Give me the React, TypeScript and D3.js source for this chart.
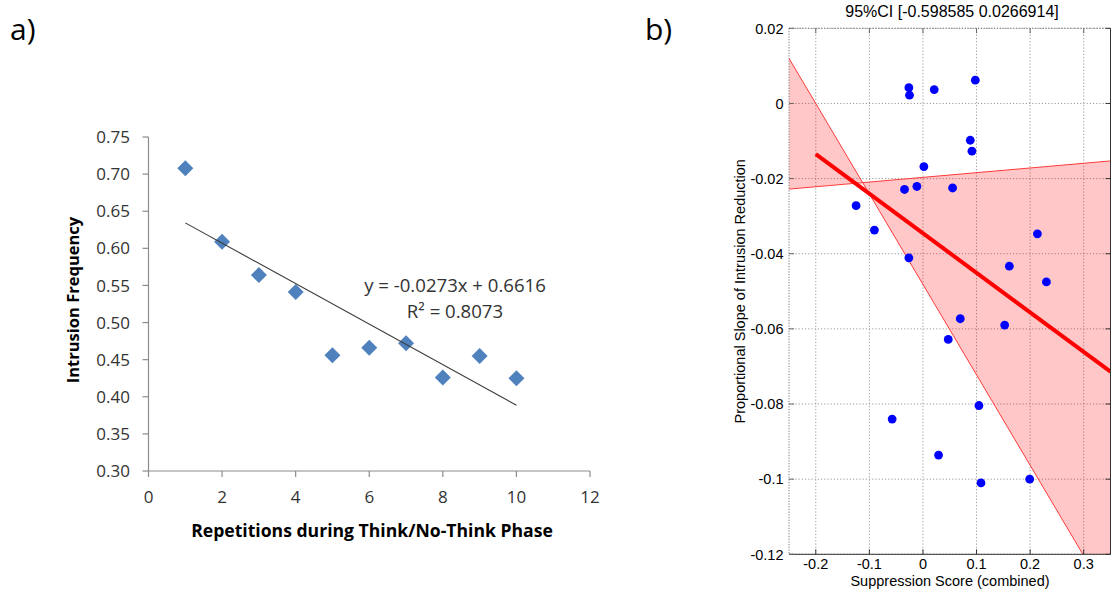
import React from "react";
import * as d3 from "d3";

// ---------- Panel a data ----------
const repetitions = [1, 2, 3, 4, 5, 6, 7, 8, 9, 10];
const intrusionFreq = [0.708, 0.609, 0.564, 0.541, 0.456, 0.466, 0.472, 0.426, 0.455, 0.425];
const trendSlope = -0.0273;
const trendIntercept = 0.6616;
const trendRange = [1, 10];
const xTicksA = [0, 2, 4, 6, 8, 10, 12];
const yTicksA = [0.3, 0.35, 0.4, 0.45, 0.5, 0.55, 0.6, 0.65, 0.7, 0.75];
const eqText = "y = -0.0273x + 0.6616";
const r2Text = "R\u00b2 = 0.8073";

// ---------- Panel b data ----------
const suppression = [
  -0.0263, -0.0251, 0.021, 0.0977, 0.0883, 0.0914, 0.0017, -0.0344, -0.0113, 0.0553,
  -0.1248, -0.0906, -0.0263, 0.2136, 0.1612, 0.2304, 0.0696, 0.0472, 0.1525, 0.1045,
  -0.0575, 0.0291, 0.1083, 0.1992,
];
const slopeVals = [
  0.0042, 0.0022, 0.0037, 0.0062, -0.0098, -0.0127, -0.0168, -0.0229, -0.0221, -0.0225,
  -0.0272, -0.0337, -0.0411, -0.0347, -0.0433, -0.0475, -0.0573, -0.0628, -0.059, -0.0804,
  -0.084, -0.0936, -0.101, -0.1,
];
const fitX = [-0.2, 0.35];
const fitY = [-0.0135, -0.0714];
const ciX = [-0.25, 0.35];
const ciLineA = [0.012, -0.1324];
const ciLineB = [-0.0228, -0.0153];
const xTicksB = [-0.2, -0.1, 0, 0.1, 0.2, 0.3];
const yTicksB = [0.02, 0, -0.02, -0.04, -0.06, -0.08, -0.1, -0.12];
const titleB = "95%CI [-0.598585 0.0266914]";

export default function App() {
  // Panel a scales
  const xA = d3.scaleLinear().domain([0, 12]).range([148.5, 590]);
  const yA = d3.scaleLinear().domain([0.3, 0.75]).range([471, 137]);
  const diamond = d3.symbol().type(d3.symbolSquare).size(128)();
  const axisGray = "#8c8c8c";
  const fa = "'Open Sans', sans-serif";
  const tickCol = "#333";

  // Panel b scales
  const xB = d3.scaleLinear().domain([-0.25, 0.35]).range([789, 1110.5]);
  const yB = d3.scaleLinear().domain([-0.12, 0.02]).range([554.3, 28.3]);
  const fb = "'Liberation Sans', Arial, sans-serif";
  const [bx0, bx1] = xB.range();
  const [by0, by1] = yB.range(); // by0 bottom, by1 top

  // Band polygon (bowtie between the two confidence lines)
  const bandPts: [number, number][] = [
    [ciX[0], ciLineA[0]],
    [ciX[1], ciLineA[1]],
    [ciX[1], ciLineB[1]],
    [ciX[0], ciLineB[0]],
  ];
  const line = d3
    .line<[number, number]>()
    .x((d) => xB(d[0]))
    .y((d) => yB(d[1]));
  const bandPath = line(bandPts) + "Z";
  const lineAPath = line(ciX.map((x, i) => [x, ciLineA[i]] as [number, number]));
  const lineBPath = line(ciX.map((x, i) => [x, ciLineB[i]] as [number, number]));
  const fitPath = line(fitX.map((x, i) => [x, fitY[i]] as [number, number]));

  const gridColor = "#9a9a9a";
  const fmtB = (t: number) => d3.format("~g")(t).replace("\u2212", "-");

  return (
    <svg
      width={1112}
      height={592}
      style={{ position: "absolute", left: 0, top: 0, background: "#fff" }}
    >
      <rect x={0} y={0} width={1112} height={592} fill="#fff" />
      {/* ---------------- Panel a ---------------- */}
      <text x={10} y={40} fontFamily={fa} fontSize={30} fill="#000">
        a)
      </text>
      {/* axes */}
      <line x1={xA(0)} x2={xA(0)} y1={yA(0.75)} y2={yA(0.3)} stroke={axisGray} strokeWidth={1.2} />
      <line x1={xA(0)} x2={xA(12)} y1={yA(0.3)} y2={yA(0.3)} stroke={axisGray} strokeWidth={1.2} />
      {yTicksA.map((t) => (
        <g key={"ya" + t}>
          <line x1={xA(0) - 6} x2={xA(0)} y1={yA(t)} y2={yA(t)} stroke={axisGray} strokeWidth={1.2} />
          <text
            x={130}
            y={yA(t)}
            dy="0.36em"
            textAnchor="end"
            fontFamily={fa}
            fontSize={17}
            fill={tickCol}
          >
            {t.toFixed(2)}
          </text>
        </g>
      ))}
      {xTicksA.map((t) => (
        <g key={"xa" + t}>
          <line x1={xA(t)} x2={xA(t)} y1={yA(0.3)} y2={yA(0.3) + 6} stroke={axisGray} strokeWidth={1.2} />
          <text
            x={xA(t)}
            y={503}
            textAnchor="middle"
            fontFamily={fa}
            fontSize={17}
            fill={tickCol}
          >
            {t}
          </text>
        </g>
      ))}
      <text
        transform={`translate(79,${(yA(0.75) + yA(0.3)) / 2 - 4}) rotate(-90)`}
        textAnchor="middle"
        fontFamily={fa}
        fontSize={16.5}
        fontWeight="bold"
        fill="#000"
      >
        Intrusion Frequency
      </text>
      <text
        x={372}
        y={537}
        textAnchor="middle"
        fontFamily={fa}
        fontSize={17.6}
        fontWeight="bold"
        fill="#000"
      >
        Repetitions during Think/No-Think Phase
      </text>
      {/* markers */}
      {repetitions.map((r, i) => (
        <path
          key={"d" + i}
          d={diamond || ""}
          transform={`translate(${xA(r)},${yA(intrusionFreq[i])}) rotate(45)`}
          fill="#4f81bd"
        />
      ))}
      {/* trendline */}
      <line
        x1={xA(trendRange[0])}
        y1={yA(trendIntercept + trendSlope * trendRange[0])}
        x2={xA(trendRange[1])}
        y2={yA(trendIntercept + trendSlope * trendRange[1])}
        stroke="#3a3a3a"
        strokeWidth={1.1}
      />
      <text x={455} y={292} textAnchor="middle" fontFamily={fa} fontSize={18.6} fill={tickCol}>
        {eqText}
      </text>
      <text x={455} y={318} textAnchor="middle" fontFamily={fa} fontSize={18.6} fill={tickCol}>
        {r2Text}
      </text>

      {/* ---------------- Panel b ---------------- */}
      <text x={645} y={40} fontFamily={fa} fontSize={30} fill="#000">
        b)
      </text>
      <defs>
        <clipPath id="clipB">
          <rect x={bx0} y={by1} width={bx1 - bx0} height={by0 - by1} />
        </clipPath>
      </defs>
      {/* gridlines */}
      {xTicksB.map((t) => (
        <line
          key={"gx" + t}
          x1={xB(t)}
          x2={xB(t)}
          y1={by1}
          y2={by0}
          stroke={gridColor}
          strokeWidth={1}
          strokeDasharray="1.2,2"
        />
      ))}
      {yTicksB.map((t) => (
        <line
          key={"gy" + t}
          x1={bx0}
          x2={bx1}
          y1={yB(t)}
          y2={yB(t)}
          stroke={gridColor}
          strokeWidth={1}
          strokeDasharray="1.2,2"
        />
      ))}
      <g clipPath="url(#clipB)">
        <path d={bandPath} fill="#ff0000" fillOpacity={0.22} stroke="none" />
        <path d={lineAPath || ""} fill="none" stroke="#ff3a3a" strokeWidth={1} />
        <path d={lineBPath || ""} fill="none" stroke="#ff3a3a" strokeWidth={1} />
        <path d={fitPath || ""} fill="none" stroke="#ff0000" strokeWidth={4} />
        {suppression.map((s, i) => (
          <circle key={"p" + i} cx={xB(s)} cy={yB(slopeVals[i])} r={4.4} fill="#0000ff" />
        ))}
      </g>
      {/* box */}
      <line x1={bx0} x2={bx0} y1={by1} y2={by0} stroke="#777" strokeWidth={1} strokeDasharray="1.2,1.5" />
      <line x1={bx0} x2={bx1} y1={by1} y2={by1} stroke="#777" strokeWidth={1} strokeDasharray="1.2,1.5" />
      <line x1={bx0} x2={bx1} y1={by0} y2={by0} stroke="#333" strokeWidth={1} />
      <line x1={bx1} x2={bx1} y1={by1} y2={by0} stroke="#333" strokeWidth={1} />
      {yTicksB.map((t) => (
        <g key={"tyb" + t}>
          <line x1={bx0} x2={bx0 + 5} y1={yB(t)} y2={yB(t)} stroke="#666" strokeWidth={1} />
          <line x1={bx1 - 5} x2={bx1} y1={yB(t)} y2={yB(t)} stroke="#333" strokeWidth={1} />
          <text
            x={783.5}
            y={yB(t)}
            dy="0.36em"
            textAnchor="end"
            fontFamily={fb}
            fontSize={14.5}
            fill="#000"
          >
            {fmtB(t)}
          </text>
        </g>
      ))}
      {xTicksB.map((t) => (
        <g key={"txb" + t}>
          <line x1={xB(t)} x2={xB(t)} y1={by0 - 5} y2={by0} stroke="#333" strokeWidth={1} />
          <line x1={xB(t)} x2={xB(t)} y1={by1} y2={by1 + 5} stroke="#666" strokeWidth={1} />
          <text
            x={xB(t)}
            y={568.5}
            textAnchor="middle"
            fontFamily={fb}
            fontSize={14.5}
            fill="#000"
          >
            {fmtB(t)}
          </text>
        </g>
      ))}
      <text x={950} y={586} textAnchor="middle" fontFamily={fb} fontSize={14.5} fill="#000">
        Suppression Score (combined)
      </text>
      <text
        transform={`translate(745,${(by0 + by1) / 2}) rotate(-90)`}
        textAnchor="middle"
        fontFamily={fb}
        fontSize={14.5}
        fill="#000"
      >
        Proportional Slope of Intrusion Reduction
      </text>
      <text x={952} y={16.5} textAnchor="middle" fontFamily={fb} fontSize={16} fill="#000">
        {titleB}
      </text>
    </svg>
  );
}
